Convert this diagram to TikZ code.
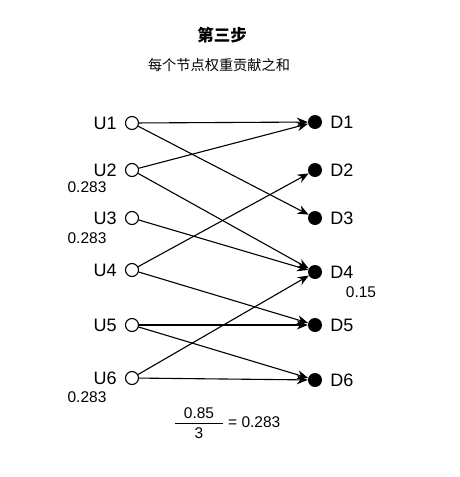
\documentclass[tikz,border=0pt]{standalone}
\usepackage{fontspec}
\setmainfont{Liberation Sans}
\newfontfamily\cjk{Noto Sans CJK SC}
\usetikzlibrary{positioning,arrows.meta}

\tikzset{
    up/.style={circle,draw,fill=white,line width=1.1pt,minimum size=13pt,inner sep=0pt},
    down/.style={circle,fill=black,minimum size=14pt,inner sep=0pt},
    lab/.style={font=\fontsize{18}{21}\selectfont,inner sep=0pt},
    val/.style={font=\fontsize{15.5}{18}\selectfont,inner sep=0pt},
    edge/.style={-{Stealth[length=11pt,width=9pt]},line width=1.1pt},
}

\begin{document}
\begin{tikzpicture}[x=1pt,y=-1pt]
    \useasboundingbox (0,0) rectangle (460,477);
    % titles
    \node[font=\cjk\bfseries\fontsize{16.5}{20}\selectfont] (title) at (222,35) {第三步};
    \node[font=\cjk\fontsize{14.2}{17}\selectfont] (sub) at (219,65) {每个节点权重贡献之和};
    % upper nodes
    \node[up] (u1) at (132,123) {};
    \node[up] (u2) at (132,170) {};
    \node[up] (u3) at (132,218) {};
    \node[up] (u4) at (132,270) {};
    \node[up] (u5) at (132,325) {};
    \node[up] (u6) at (132,378) {};
    \foreach \i in {1,...,6}
        \node[lab,left=8pt of u\i] (lu\i) {U\i};
    % lower nodes
    \node[down] (d1) at (315,122) {};
    \node[down] (d2) at (315,170) {};
    \node[down] (d3) at (315,218) {};
    \node[down] (d4) at (315,272) {};
    \node[down] (d5) at (315,325) {};
    \node[down] (d6) at (315,380) {};
    \foreach \i in {1,...,6}
        \node[lab,right=8pt of d\i] (ld\i) {D\i};
    % weights
    \node[val] (w2) at (87,187) {0.283};
    \node[val] (w3) at (87,238) {0.283};
    \node[val] (w6) at (87,397) {0.283};
    \node[val] (w4) at (361,292) {0.15};
    % links
    \draw[edge] (u1) -- (d1);
    \draw[edge] (u1) -- (d3);
    \draw[edge] (u2) -- (d1);
    \draw[edge] (u2) -- (d4);
    \draw[edge] (u3) -- (d4);
    \draw[edge] (u4) -- (d2);
    \draw[edge] (u4) -- (d5);
    \draw[edge] (u5) -- (d5);
    \draw[edge] (u5) -- (d6);
    \draw[edge] (u6) -- (d4);
    \draw[edge] (u6) -- (d6);
    % formula
    \node[val] (num) at (199,413) {0.85};
    \node[val] (den) at (199,433) {3};
    \draw[line width=1pt] (175,423) coordinate (fl) -- (223,423) coordinate (fr);
    \node[val,anchor=west] (res) at (228,422) {= 0.283};
\end{tikzpicture}
\end{document}
